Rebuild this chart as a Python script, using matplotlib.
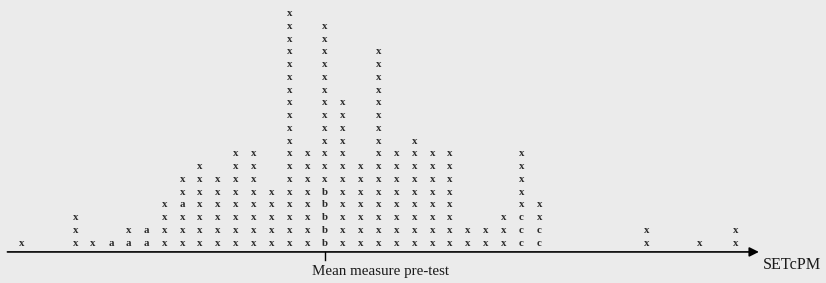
import matplotlib.pyplot as plt

# columns of the dot plot (position on the measure scale, marks from bottom to top)
col_pos = [0, 3, 4, 5, 6, 7, 8, 9, 10, 11, 12, 13, 14, 15, 16, 17, 18, 19, 20,
           21, 22, 23, 24, 25, 26, 27, 28, 29, 35, 38, 40]
col_marks = ["x", "xxx", "x", "a", "ax", "aa", "xxxx", "xxxaxx", "xxxxxxx",
             "xxxxxx", "xxxxxxxx", "xxxxxxxx", "xxxxx",
             "xxxxxxxxxxxxxxxxxxx", "xxxxxxxx",
             "bbbbbxxxxxxxxxxxxx", "xxxxxxxxxxxx", "xxxxxxx",
             "xxxxxxxxxxxxxxxx", "xxxxxxxx", "xxxxxxxxx", "xxxxxxxx",
             "xxxxxxxx", "xx", "xx", "xxx", "cccxxxxx", "ccxx",
             "xx", "x", "xx"]
mean_pos = 17
axis_label = "SETcPM"
mean_label = "Mean measure pre-test"

bg = "#ebebeb"
fig = plt.figure(figsize=(8.26, 2.83), dpi=100, facecolor=bg)
ax = fig.add_axes([0, 0, 1, 1])
ax.set_facecolor(bg)
ax.set_xlim(-1.216, 45.06)
ax.set_ylim(-3.137, 19.06)
ax.axis("off")

for p, marks in zip(col_pos, col_marks):
    for k, m in enumerate(marks):
        ax.text(p, k, m, ha="center", va="center", fontsize=7.8,
                family="Liberation Serif", fontweight="bold", color="#2a2a2a")

# axis with arrow
y_axis = -0.7
ax.annotate("", xy=(41.3, y_axis), xytext=(-0.8, y_axis),
            arrowprops=dict(arrowstyle="-|>", color="black", lw=1.2,
                            mutation_scale=14, shrinkA=0, shrinkB=0))
ax.plot([mean_pos, mean_pos], [y_axis, y_axis - 0.65], color="black", lw=1)
ax.text(mean_pos - 0.72, -2.2, mean_label, ha="left", va="center",
        fontsize=10.8, family="Liberation Serif", color="#1a1a1a")
ax.text(41.5, -1.73, axis_label, ha="left", va="center",
        fontsize=11.6, family="Liberation Serif", color="#1a1a1a")

fig.savefig("out.png", dpi=100, facecolor=bg)
